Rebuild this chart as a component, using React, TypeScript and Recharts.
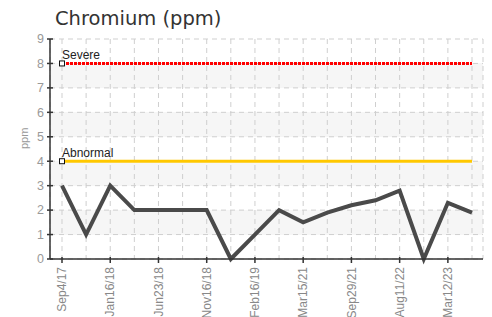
import React from 'react';
import { LineChart, Line, XAxis, YAxis, CartesianGrid } from 'recharts';

const dateLabels = ['Sep4/17', '', 'Jan16/18', '', 'Jun23/18', '', 'Nov16/18', '', 'Feb16/19', '', 'Mar15/21', '', 'Sep29/21', '', 'Aug11/22', '', 'Mar12/23', ''];
const chromium = [3, 1, 3, 2, 2, 2, 2, 0, 1, 2, 1.5, 1.9, 2.2, 2.4, 2.8, 0, 2.3, 1.9];
const severeLimit = 8;
const abnormalLimit = 4;
const yTicks = [0, 1, 2, 3, 4, 5, 6, 7, 8, 9];

const data = chromium.map((v, i) => ({ idx: i, value: v, severe: severeLimit, abnormal: abnormalLimit }));

const FONT = '"Liberation Sans", Arial, sans-serif';

const XTick = (props: any) => {
  const { x, y, payload } = props;
  const label = dateLabels[payload.value];
  if (!label) return <g />;
  return (
    <g>
      <line x1={x} x2={x} y1={y - 8} y2={y - 2} stroke="#333" strokeWidth={1.5} />
      <text
        transform={`translate(${x},${y + 2}) rotate(-90)`}
        textAnchor="end"
        dy="0.35em"
        fill="#888"
        fontSize={12}
        fontFamily={FONT}
      >
        {label}
      </text>
    </g>
  );
};

const YTick = (props: any) => {
  const { x, y, payload } = props;
  return (
    <g>
      <line x1={x + 3} x2={x + 9} y1={y} y2={y} stroke="#333" strokeWidth={1.5} />
      <text x={x} y={y} dy="0.35em" textAnchor="end" fill="#999" fontSize={12.5} fontFamily={FONT}>
        {payload.value}
      </text>
    </g>
  );
};

const makeLimitDot = (label: string) => (props: any) => {
  const { cx, cy, index } = props;
  if (index !== 0) return <g key={`d${index}`} />;
  return (
    <g key={`d${index}`}>
      <rect x={cx - 2.5} y={cy - 2.5} width={5} height={5} fill="#fff" stroke="#111" strokeWidth={1} />
      <text x={cx} y={cy - 4} fill="#222" fontSize={12} fontFamily={FONT}>
        {label}
      </text>
    </g>
  );
};

export default function App() {
  return (
    <div style={{ position: 'absolute', left: 0, top: 0, width: 492, height: 317, background: '#fff' }}>
      <LineChart
        width={492}
        height={317}
        data={data}
        margin={{ top: 39, right: 9, left: 0, bottom: 0 }}
      >
        <CartesianGrid
          stroke="#cfcfcf"
          strokeDasharray="5 4"
          horizontalFill={['#ffffff', '#f6f6f6']}
          fillOpacity={1}
        />
        <XAxis
          dataKey="idx"
          type="category"
          interval={0}
          height={58}
          padding={{ left: 12, right: 11 }}
          tickLine={false}
          tick={<XTick />}
          tickSize={4}
          axisLine={{ stroke: '#333', strokeWidth: 1.5 }}
        />
        <YAxis
          domain={[0, 9]}
          ticks={yTicks}
          width={50}
          tickLine={false}
          tickSize={4}
          tick={<YTick />}
          axisLine={{ stroke: '#333', strokeWidth: 1.5 }}
          label={{
            value: 'ppm',
            angle: -90,
            position: 'insideLeft',
            offset: 24,
            fill: '#999',
            fontSize: 11,
            fontFamily: FONT,
          }}
        />
        <Line
          dataKey="severe"
          stroke="#ff0000"
          strokeWidth={3}
          strokeDasharray="3 1"
          dot={makeLimitDot('Severe')}
          activeDot={false}
          isAnimationActive={false}
        />
        <Line
          dataKey="abnormal"
          stroke="#ffc800"
          strokeWidth={3}
          dot={makeLimitDot('Abnormal')}
          activeDot={false}
          isAnimationActive={false}
        />
        <Line
          dataKey="value"
          stroke="#4a4a4a"
          strokeWidth={4}
          dot={false}
          activeDot={false}
          isAnimationActive={false}
        />
      </LineChart>
      <svg width={492} height={317} style={{ position: 'absolute', left: 0, top: 0, pointerEvents: 'none' }}>
        <text x={55} y={25} fill="#333" fontSize={19.5} fontFamily='"DejaVu Sans", sans-serif'>
          Chromium (ppm)
        </text>
      </svg>
    </div>
  );
}
